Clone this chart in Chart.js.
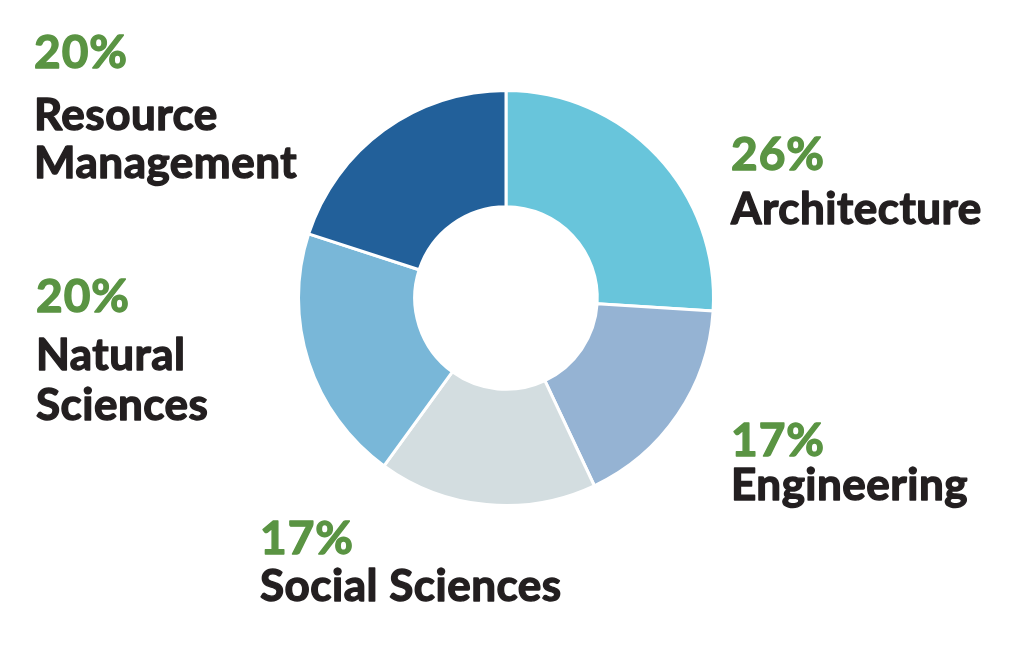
<!DOCTYPE html>
<html>
<head>
<meta charset="utf-8">
<script src="https://cdn.jsdelivr.net/npm/chart.js@4"></script>
<style>
  html, body { margin: 0; padding: 0; background: #fff; }
  #wrap { position: relative; width: 1012px; height: 662px; }
</style>
</head>
<body>
<div id="wrap"><canvas id="donut" width="1012" height="662"></canvas></div>
<script>
const categories = ['Architecture', 'Engineering', 'Social Sciences', 'Natural Sciences', 'Resource Management'];
const shares = [26, 17, 17, 20, 20];
const sliceColors = ['#68c5db', '#95b3d3', '#d3dde0', '#79b7d8', '#22609a'];

// label blocks: x, baseline of the percent, then name lines with their baselines
const labelSpots = [
    { x: 731, y: 170, lines: [['Architecture', 224]] },
    { x: 731, y: 456, lines: [['Engineering', 500]] },
    { x: 260, y: 554, lines: [['Social Sciences', 601]] },
    { x: 36, y: 312, lines: [['Natural', 370], ['Sciences', 420]] },
    { x: 34, y: 68, lines: [['Resource', 130], ['Management', 178]] }
];

// fill + thin stroke so Lato bold looks a bit heavier
function heavyText(ctx, txt, x, y) {
    ctx.fillText(txt, x, y);
    ctx.strokeText(txt, x, y);
}

const labelPlugin = {
    id: 'sideLabels',
    afterDraw(chart) {
        const ctx = chart.ctx;
        ctx.save();
        ctx.textBaseline = 'alphabetic';
        ctx.textAlign = 'left';
        ctx.lineWidth = 1.4;
        ctx.lineJoin = 'round';
        labelSpots.forEach((spot, i) => {
            ctx.font = 'bold 46px Lato';
            ctx.letterSpacing = '1px';
            ctx.fillStyle = ctx.strokeStyle = '#5a9443';
            heavyText(ctx, shares[i] + '%', spot.x, spot.y);
            ctx.fillStyle = ctx.strokeStyle = '#231f20';
            ctx.font = 'bold 44px Lato';
            ctx.letterSpacing = '0.5px';
            spot.lines.forEach(([txt, y]) => heavyText(ctx, txt, spot.x, y));
        });
        ctx.restore();
    }
};

new Chart(document.getElementById('donut').getContext('2d'), {
    type: 'doughnut',
    data: {
        labels: categories,
        datasets: [{
            data: shares,
            backgroundColor: sliceColors,
            borderColor: '#ffffff',
            borderWidth: 3
        }]
    },
    options: {
        responsive: false,
        animation: false,
        cutout: '44%',
        layout: { padding: { top: 89, bottom: 155, left: 0, right: 0 } },
        plugins: {
            legend: { display: false },
            tooltip: { enabled: false }
        }
    },
    plugins: [labelPlugin]
});
</script>
</body>
</html>
